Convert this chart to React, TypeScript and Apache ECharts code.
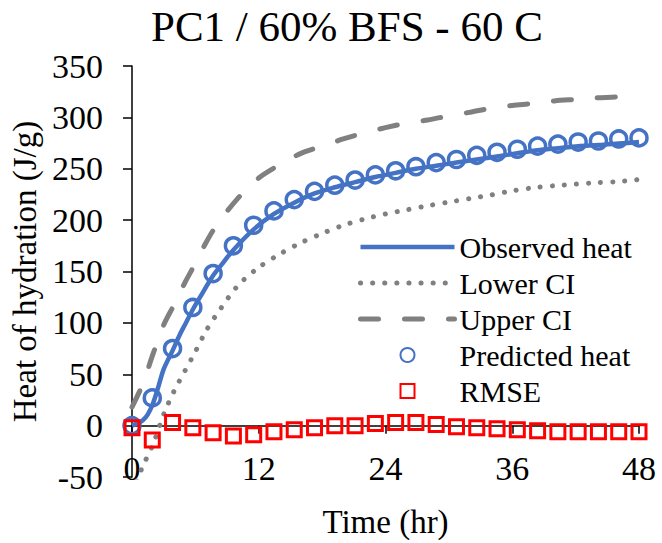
import React, { useEffect, useRef } from "react";
import * as echarts from "echarts";

const chartTitle = "PC1 / 60% BFS - 60 C";
const xAxisTitle = "Time (hr)";
const yAxisTitle = "Heat of hydration (J/g)";
const xAxisRange = [0, 48];
const xTickStep = 12;
const yAxisRange = [-50, 350];
const yTickStep = 50;

const obsTime = [0, 0.5, 1, 1.5, 2, 2.5, 3, 3.84, 4.5, 5, 5.76, 6.5, 7.68, 8.5, 9.6, 11.52, 13.44, 15.36, 17.28, 19.2, 21.12, 23.04, 24.96, 26.88, 28.8, 30.72, 32.64, 34.56, 36.48, 38.4, 40.32, 42.24, 44.16, 46.08, 48];
const obsHeat = [0, 2, 5, 11, 22, 38, 55, 73, 88, 98, 113, 126, 146, 157, 171, 191, 206, 217, 226, 232, 237, 242, 246, 250, 253, 256, 259, 262, 265, 268, 270, 272, 273, 274.5, 276];

const ciTime = [0, 1, 2, 3, 4, 5, 6, 7, 8, 10, 12, 14, 16, 18, 20, 22, 24, 26, 28, 30, 32, 34, 36, 38, 40, 42, 44, 46, 48];
const lowerCI = [-65, -40, -18, 11, 34, 53, 72, 92, 108, 136, 154, 167, 178, 187, 195, 201, 206, 210, 214, 217.5, 221, 224.5, 228.5, 231.5, 233.5, 235, 236.5, 237.5, 239.5];
const upperCI = [18, 40, 70, 98, 118, 139, 158, 178, 195, 221, 241, 254, 265, 272, 279, 285, 290, 294.5, 297.5, 301.5, 305, 309, 311.5, 313.5, 316, 317.5, 319, 320, 322];

const predTime = [0, 1.92, 3.84, 5.76, 7.68, 9.6, 11.52, 13.44, 15.36, 17.28, 19.2, 21.12, 23.04, 24.96, 26.88, 28.8, 30.72, 32.64, 34.56, 36.48, 38.4, 40.32, 42.24, 44.16, 46.08, 48];
const predHeat = [0, 27, 75, 115, 148, 175, 195, 209, 220, 228, 234, 239, 244, 248, 252, 256, 259, 263, 266, 269, 272, 274, 276, 277, 279, 280];
const rmse = [-2, -14, 3, -2, -7, -10, -9, -6, -4, -2, 0, 0, 2, 3, 3, 1, -1, -2, -3, -4, -5, -6, -6, -6, -6, -6];

const legendNames = ["Observed heat", "Lower CI", "Upper CI", "Predicted heat", "RMSE"];

const FONT = "'Liberation Serif', 'Times New Roman', serif";
const BLUE = "#4472C4";
const GRAY = "#808080";
const RED = "#FF0000";
const TEXT = "#000000";
const SQUARE = "path://M0 0H10V10H0Z";

function pairs(xs: number[], ys: number[]) {
  return xs.map((x, i) => [x, ys[i]]);
}

export default function App() {
  const ref = useRef<HTMLDivElement>(null);
  useEffect(() => {
    if (!ref.current) return;
    const chart = echarts.init(ref.current, null, { renderer: "svg" });
    const axisLine = { color: "#000", width: 1.5 };
    const obsStyle = { color: BLUE, width: 4.5 };
    const lowStyle = { color: GRAY, width: 5, type: [0.1, 12], cap: "round" };
    const upStyle = { color: GRAY, width: 5, type: [18, 26], cap: "round" };
    chart.setOption({
      animation: false,
      backgroundColor: "#ffffff",
      title: {
        text: chartTitle,
        left: 146,
        top: 0,
        textStyle: { fontFamily: FONT, fontSize: 43, fontWeight: "normal", color: TEXT },
      },
      grid: { left: 132, right: 23, top: 66, bottom: 66, containLabel: false, outerBoundsMode: "none" },
      legend: {
        orient: "vertical",
        left: 358,
        top: 232,
        padding: 0,
        itemWidth: 94,
        itemHeight: 14,
        itemGap: 6,
        textStyle: { fontFamily: FONT, fontSize: 30, color: TEXT, padding: [0, 0, 0, 0] },
        data: [
          { name: legendNames[0], itemStyle: { opacity: 0 }, lineStyle: obsStyle },
          { name: legendNames[1], itemStyle: { opacity: 0 }, lineStyle: lowStyle },
          { name: legendNames[2], itemStyle: { opacity: 0 }, lineStyle: upStyle },
          { name: legendNames[3] },
          { name: legendNames[4] },
        ],
      },
      xAxis: [
        {
          type: "value",
          min: xAxisRange[0],
          max: xAxisRange[1],
          interval: xTickStep,
          axisLine: { show: true, onZero: true, lineStyle: axisLine },
          axisTick: { show: true, length: 8, lineStyle: axisLine },
          axisLabel: { show: false },
          splitLine: { show: false },
        },
        {
          type: "value",
          position: "bottom",
          min: xAxisRange[0],
          max: xAxisRange[1],
          interval: xTickStep,
          name: xAxisTitle,
          nameLocation: "middle",
          nameGap: 28,
          nameTextStyle: { fontFamily: FONT, fontSize: 33, color: TEXT },
          axisLine: { show: false, onZero: false },
          axisTick: { show: false },
          axisLabel: { margin: -26, fontFamily: FONT, fontSize: 34, color: TEXT },
          splitLine: { show: false },
        },
      ],
      yAxis: {
        type: "value",
        min: yAxisRange[0],
        max: yAxisRange[1],
        interval: yTickStep,
        name: yAxisTitle,
        nameLocation: "middle",
        nameGap: 78,
        nameTextStyle: { fontFamily: FONT, fontSize: 33, color: TEXT },
        axisLine: { show: true, onZero: false, lineStyle: axisLine },
        axisTick: { show: true, length: 9, lineStyle: axisLine },
        axisLabel: { margin: 29, fontFamily: FONT, fontSize: 34, color: TEXT },
        splitLine: { show: false },
      },
      series: [
        {
          name: legendNames[0],
          type: "line",
          xAxisIndex: 0,
          data: pairs(obsTime, obsHeat),
          symbol: "none",
          smooth: 0.3,
          lineStyle: obsStyle,
          itemStyle: { color: BLUE },
          z: 2,
        },
        {
          name: legendNames[1],
          type: "line",
          xAxisIndex: 0,
          data: pairs(ciTime, lowerCI),
          symbol: "none",
          smooth: 0.3,
          clip: true,
          lineStyle: lowStyle,
          itemStyle: { color: GRAY },
          z: 2,
        },
        {
          name: legendNames[2],
          type: "line",
          xAxisIndex: 0,
          data: pairs(ciTime, upperCI),
          symbol: "none",
          smooth: 0.3,
          lineStyle: upStyle,
          itemStyle: { color: GRAY },
          z: 2,
        },
        {
          name: legendNames[3],
          type: "scatter",
          xAxisIndex: 0,
          data: pairs(predTime, predHeat),
          symbol: "circle",
          symbolSize: 16,
          itemStyle: { color: "rgba(0,0,0,0)", borderColor: BLUE, borderWidth: 3.5, opacity: 1 },
          z: 3,
        },
        {
          name: legendNames[4],
          type: "scatter",
          xAxisIndex: 0,
          data: pairs(predTime, rmse),
          symbol: SQUARE,
          symbolKeepAspect: true,
          symbolSize: 14,
          itemStyle: { color: "rgba(0,0,0,0)", borderColor: RED, borderWidth: 3, opacity: 1 },
          z: 4,
        },
      ],
    });
    return () => chart.dispose();
  }, []);
  return (
    <div
      ref={ref}
      style={{ position: "fixed", left: 0, top: 0, width: 662, height: 543, background: "#fff" }}
    />
  );
}
